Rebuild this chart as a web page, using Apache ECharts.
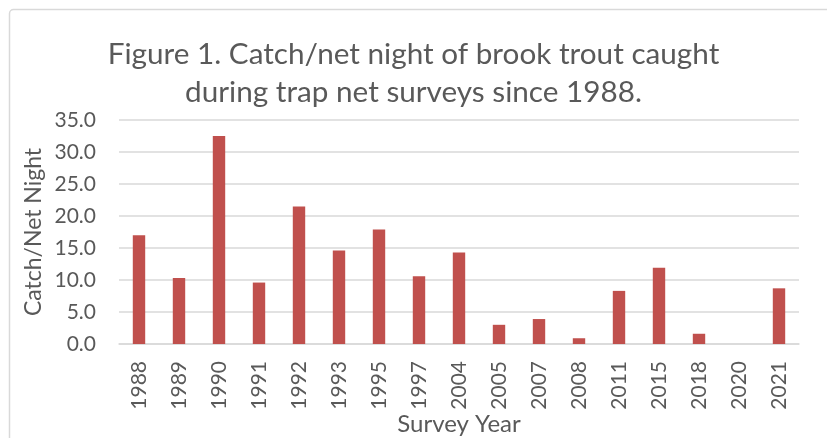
<!DOCTYPE html>
<html><head><meta charset="utf-8">
<script src="https://cdn.jsdelivr.net/npm/echarts@6/dist/echarts.min.js"></script>
<style>html,body{margin:0;padding:0;background:#fff}#c{width:827px;height:438px}</style>
</head><body><div id="c"></div>
<script>
const years = ['1988','1989','1990','1991','1992','1993','1995','1997','2004','2005','2007','2008','2011','2015','2018','2020','2021'];
const catchPerNetNight = [17.0,10.3,32.5,9.6,21.5,14.6,17.9,10.6,14.3,3.0,3.9,0.9,8.3,11.9,1.6,0,8.7];
const yTicks = [0,5,10,15,20,25,30,35];

const FONT = 'Lato';
const TXT = '#595959';
const chart = echarts.init(document.getElementById('c'));
chart.setOption({
  animation:false,
  backgroundColor:'#fff',
  graphic:[{type:'rect',shape:{x:9.5,y:9.5,width:830,height:440,r:4},style:{fill:'none',stroke:'#d9d9d9',lineWidth:1.5},silent:true}],
  title:{text:'Figure 1. Catch/net night of brook trout caught\nduring trap net surveys since 1988.',left:'center',top:30,padding:[5,0,5,8],
    textStyle:{fontFamily:FONT,fontSize:29.7,fontWeight:'normal',color:TXT,lineHeight:38}},
  grid:{left:119,right:28,top:120,bottom:94,outerBoundsMode:'none',containLabel:false},
  xAxis:{type:'category',data:years,
    name:'Survey Year',nameLocation:'middle',nameGap:68,nameMoveOverlap:false,
    nameTextStyle:{fontFamily:FONT,fontSize:24,color:TXT},
    axisLine:{lineStyle:{color:'#d9d9d9',width:1.5}},axisTick:{show:false},
    axisLabel:{rotate:90,margin:17,fontFamily:FONT,fontSize:21,color:TXT}},
  yAxis:{type:'value',min:0,max:35,interval:5,
    name:'Catch/Net Night',nameLocation:'middle',nameGap:74,nameMoveOverlap:false,
    nameTextStyle:{fontFamily:FONT,fontSize:23,color:TXT},
    axisLine:{show:false},axisTick:{show:false},
    splitLine:{lineStyle:{color:'#d9d9d9',width:1.5}},
    axisLabel:{margin:23,fontFamily:FONT,fontSize:21,color:TXT,formatter:v=>v.toFixed(1)}},
  series:[{type:'bar',data:catchPerNetNight,barWidth:'31%',itemStyle:{color:'#C0504D'}}]
});
</script></body></html>
